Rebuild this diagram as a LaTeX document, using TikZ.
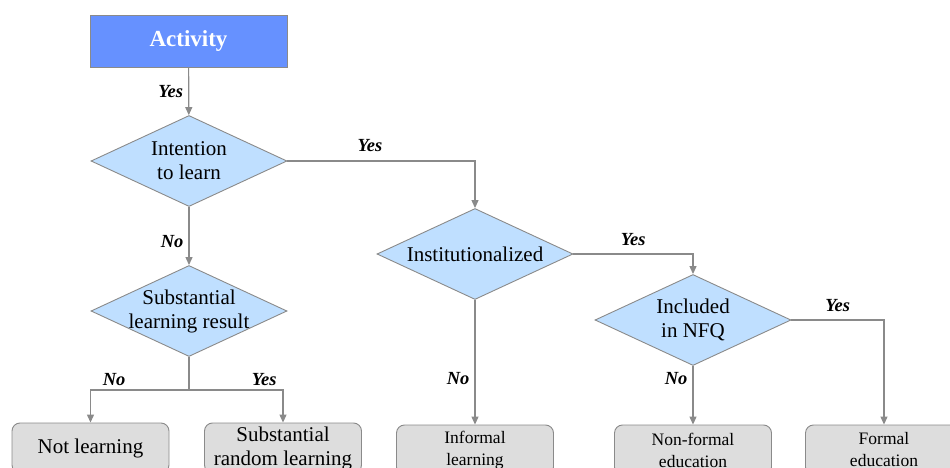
\documentclass[tikz,border=0pt]{standalone}
\usepackage{fontspec}
\setmainfont{Liberation Serif}
\usepackage{tikz}
\usetikzlibrary{shapes.geometric}
\usetikzlibrary{arrows.meta}
\usepackage{color}
\definecolor{activityblue}{RGB}{102, 145, 255}
\definecolor{decisionblue}{RGB}{191, 223, 255}
\definecolor{endgray}{RGB}{221, 221, 221}
\definecolor{linegray}{RGB}{138, 138, 138}

\tikzset{
    start/.style    ={rectangle, draw=linegray, fill=activityblue, line width=0.9pt,
                      minimum width=197pt, minimum height=52pt, inner sep=0pt,
                      text=white, font=\fontsize{23}{26}\selectfont\bfseries},
    decision/.style ={diamond, draw=linegray, fill=decisionblue, line width=0.9pt,
                      minimum width=196pt, minimum height=91pt, inner sep=0pt},
    dtext/.style    ={align=center, font=\fontsize{21}{24}\selectfont},
    outcome/.style  ={rectangle, rounded corners=8pt, draw=linegray, fill=endgray, line width=0.9pt,
                      minimum width=157pt, minimum height=50pt, inner sep=0pt, align=center},
    bigtext/.style  ={font=\fontsize{21}{24}\selectfont},
    smalltext/.style={font=\fontsize{17.5}{22}\selectfont},
    flow/.style     ={draw=linegray, line width=1.2pt, -{Triangle[length=8pt,width=7pt]}},
    answer/.style   ={font=\fontsize{18.5}{20}\selectfont\bfseries\itshape, inner sep=1pt},
}

\begin{document}
\begin{tikzpicture}[x=1pt, y=-1pt]
    \useasboundingbox (0,0) rectangle (950,468);
    \clip (0,0) rectangle (950,468);

    % top and decisions
    \node[start]    (act) at (188.5, 41) {Activity};
    \node[decision] (int) at (189, 161) [label={[dtext]center:Intention\\to learn}] {};
    \node[decision] (sub) at (189, 311) [label={[dtext]center:Substantial\\learning result}] {};
    \node[decision] (ins) at (475, 254) [label={[dtext]center:Institutionalized}] {};
    \node[decision] (nfq) at (693, 320) [label={[dtext]center:Included\\in NFQ}] {};

    % outcomes (cut by the lower edge)
    \node[outcome, bigtext]   (notl) at ( 90.5, 448) {Not learning};
    \node[outcome, bigtext]   (rand) at (283,   448) {Substantial\\random learning};
    \node[outcome, smalltext] (infl) at (475,   450) {Informal\\learning};
    \node[outcome, smalltext] (nonf) at (693,   450) {Non-formal\\education};
    \node[outcome, smalltext] (form) at (884,   450) {Formal\\education};

    \coordinate (split) at (189, 390);

    % connectors
    \draw[flow] (act) -- node[answer, left=4pt] (y1) {Yes} (int);
    \draw[flow] (int.east) -| node[answer, pos=0.22, above=8pt] (y2) {Yes} (ins.north);
    \draw[flow] (int) -- node[answer, pos=0.6, left=4pt] (n1) {No} (sub);
    \draw[draw=linegray, line width=1.2pt] (sub) -- (split);
    \draw[flow] (split) -| node[answer, pos=0.38, above=3pt] (n2) {No} (notl.north);
    \draw[flow] (split) -| node[answer, pos=0.4, above=3pt] (y3) {Yes} (rand.north);
    \draw[flow] (ins.east) -| node[answer, pos=0.25, above=7pt] (y4) {Yes} (nfq.north);
    \draw[flow] (ins) -- node[answer, pos=0.63, left=4pt] (n3) {No} (infl);
    \draw[flow] (nfq.east) -| node[answer, pos=0.25, above=7pt] (y5) {Yes} (form.north);
    \draw[flow] (nfq) -- node[answer, pos=0.22, left=4pt] (n4) {No} (nonf);
\end{tikzpicture}
\end{document}
